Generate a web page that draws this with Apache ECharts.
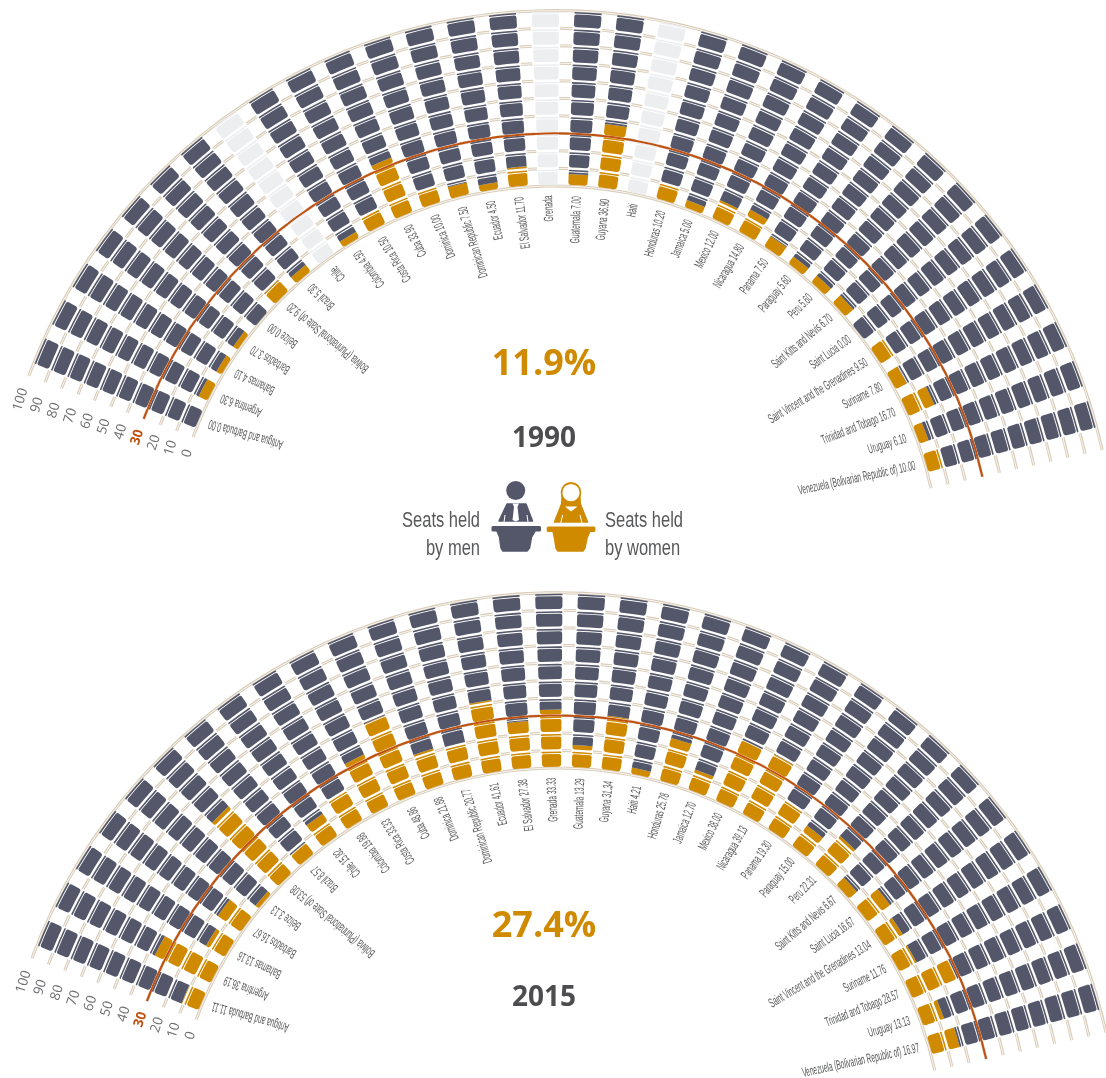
<!DOCTYPE html>
<html>
<head>
<meta charset="utf-8">
<title>Seats held by women in national parliaments</title>
<script src="https://cdn.jsdelivr.net/npm/echarts@6/dist/echarts.min.js"></script>
<style>
  html, body { margin: 0; padding: 0; background: #fff; }
  #chart { width: 1106px; height: 1078px; }
</style>
</head>
<body>
<div id="chart"></div>
<script>
// 资料
const countries = [
  "Antigua and Barbuda", "Argentina", "Bahamas", "Barbados", "Belize",
  "Bolivia (Plurinational State of)", "Brazil", "Chile", "Colombia", "Costa Rica",
  "Cuba", "Dominica", "Dominican Republic", "Ecuador", "El Salvador", "Grenada",
  "Guatemala", "Guyana", "Haiti", "Honduras", "Jamaica", "Mexico", "Nicaragua",
  "Panama", "Paraguay", "Peru", "Saint Kitts and Nevis", "Saint Lucia",
  "Saint Vincent and the Grenadines", "Suriname", "Trinidad and Tobago", "Uruguay",
  "Venezuela (Bolivarian Republic of)"
];
const women1990 = [
  0.0, 6.3, 4.1, 3.7, 0.0, 9.2, 5.3, null, 4.5, 10.5, 33.9, 10.0, 7.5, 4.5, 11.7, null,
  7.0, 36.9, null, 10.2, 5.0, 12.0, 14.8, 7.5, 5.6, 5.6, 6.7, 0.0, 9.5, 7.8, 16.7, 6.1, 10.0
];
const women2015 = [
  11.11, 36.19, 13.16, 16.67, 3.13, 53.08, 8.57, 15.82, 19.88, 33.33, 48.86, 21.88, 20.77,
  41.61, 27.38, 33.33, 13.29, 31.34, 4.21, 25.78, 12.7, 38.0, 39.13, 19.3, 15.0, 22.31,
  6.67, 16.67, 13.04, 11.76, 28.57, 13.13, 16.97
];
const ringValues = [0, 10, 20, 30, 40, 50, 60, 70, 80, 90, 100];
const targetLine = 30;

const MEN = "#535769";
const WOMEN = "#d08a00";
const MISSING = "#eceef0";
const RING = "#d9ccb8";
const TARGET = "#c0500f";
const TEXT = "#58595b";
const NARROW = "'Liberation Sans Narrow', 'Liberation Sans', sans-serif";

// 角度轴：每个国家占 1 个单位
const axisStart = -0.64;
const axisEnd = 32.87;

const pointOf = (api, params, value, pos) => {
  const p = api.coord([value, pos]);
  const { cx, cy } = params.coordSys;
  return { x: p[0], y: p[1], r: Math.hypot(p[0] - cx, p[1] - cy), a: Math.atan2(p[1] - cy, p[0] - cx) };
};

const sector = (api, params, from, to, i, halfWidth, corner, fill) => {
  const a = pointOf(api, params, from, i - halfWidth);
  const b = pointOf(api, params, to, i + halfWidth);
  return {
    type: "sector",
    shape: {
      cx: params.coordSys.cx, cy: params.coordSys.cy,
      r0: a.r, r: b.r, startAngle: a.a, endAngle: b.a,
      clockwise: true, cornerRadius: corner,
    },
    style: { fill: fill },
  };
};

const arc = (api, params, value, stroke, width) => {
  const a = pointOf(api, params, value, axisStart);
  const b = pointOf(api, params, value, axisEnd);
  return {
    type: "arc",
    shape: {
      cx: params.coordSys.cx, cy: params.coordSys.cy, r: a.r,
      startAngle: a.a, endAngle: b.a, clockwise: true,
    },
    style: { stroke: stroke, fill: null, lineWidth: width },
  };
};

// 一个座位 = 座面 + 靠背两段，女性占比在径向上切开
const seatPart = (api, params, i, share, from, to, cornerIn, cornerOut) => {
  const hw = 0.32;
  if (share === null) return [sector(api, params, from, to, i, hw, [cornerIn, cornerOut], MISSING)];
  if (share >= to) return [sector(api, params, from, to, i, hw, [cornerIn, cornerOut], WOMEN)];
  if (share <= from) return [sector(api, params, from, to, i, hw, [cornerIn, cornerOut], MEN)];
  return [
    sector(api, params, from, share, i, hw, [cornerIn, 0], WOMEN),
    sector(api, params, share, to, i, hw, [0, cornerOut], MEN),
  ];
};

const seatSeries = (shares, polarIndex) => ({
  type: "custom",
  coordinateSystem: "polar",
  polarIndex: polarIndex,
  z: 3,
  silent: true,
  clip: false,
  data: shares.map((v, i) => [v === null ? 0 : v, i]),
  renderItem(params, api) {
    const i = params.dataIndex;
    const share = shares[i];
    // 白底把列内的环线盖住
    const children = [sector(api, params, 0.9, 99, i, 0.35, 0, "#fff")];
    for (let k = 0; k < 100; k += 10) {
      children.push(...seatPart(api, params, i, share, k + 0.7, k + 8, 3, 2));
      children.push(...seatPart(api, params, i, share, k + 8.5, k + 9.4, 0, 1));
    }
    return { type: "group", children: children };
  },
});

const ringSeries = (polarIndex) => ({
  type: "custom",
  coordinateSystem: "polar",
  polarIndex: polarIndex,
  z: 2,
  silent: true,
  clip: false,
  data: ringValues.map((v) => [v, 0]),
  renderItem(params, api) {
    const v = api.value(0);
    return {
      type: "group",
      children: [arc(api, params, v, RING, 3), arc(api, params, v, "#fff", 0.8)],
    };
  },
});

const targetSeries = (polarIndex) => ({
  type: "custom",
  coordinateSystem: "polar",
  polarIndex: polarIndex,
  z: 4,
  silent: true,
  clip: false,
  data: [[targetLine, 0]],
  renderItem(params, api) {
    return arc(api, params, api.value(0), TARGET, 2);
  },
});

// 国家标签，沿半径方向向外读
const labelSeries = (shares, polarIndex) => ({
  type: "custom",
  coordinateSystem: "polar",
  polarIndex: polarIndex,
  z: 5,
  silent: true,
  clip: false,
  data: shares.map((v, i) => [v === null ? 0 : v, i]),
  renderItem(params, api) {
    const i = params.dataIndex;
    const share = shares[i];
    const p = pointOf(api, params, -5.5, i);
    const text = share === null ? countries[i] : countries[i] + " " + share.toFixed(2);
    // 标签比列略微展开一点
    const fan = ((7 - 0.35 * i) * Math.PI) / 180;
    return {
      type: "text",
      x: p.x, y: p.y,
      rotation: -p.a + fan,
      scaleX: 0.49,
      style: { text: text, fontFamily: NARROW, fontSize: 13.5, fill: TEXT, align: "right", verticalAlign: "middle" },
    };
  },
});

const tickSeries = (polarIndex) => ({
  type: "custom",
  coordinateSystem: "polar",
  polarIndex: polarIndex,
  z: 5,
  silent: true,
  clip: false,
  data: ringValues.map((v) => [v, 0]),
  renderItem(params, api) {
    const v = api.value(0);
    const p = pointOf(api, params, v, axisStart - 0.58);
    const hot = v === targetLine;
    return {
      type: "text",
      x: p.x, y: p.y,
      rotation: -p.a - Math.PI / 2,
      style: {
        text: String(v),
        fontFamily: "'Open Sans', sans-serif",
        fontSize: 13.5,
        fontWeight: hot ? "bold" : "normal",
        fill: hot ? TARGET : "#6d6e71",
        align: "center",
        verticalAlign: "middle",
      },
    };
  },
});

const angleAxisOf = (polarIndex) => ({
  polarIndex: polarIndex,
  type: "value",
  min: axisStart,
  max: axisEnd,
  startAngle: 159.6,
  endAngle: 12.5,
  axisLine: { show: false },
  axisTick: { show: false },
  axisLabel: { show: false },
  splitLine: { show: false },
});
const radiusAxisOf = (polarIndex) => ({
  polarIndex: polarIndex,
  type: "value",
  min: 0,
  max: 100,
  axisLine: { show: false },
  axisTick: { show: false },
  axisLabel: { show: false },
  splitLine: { show: false },
});

const bigText = (text, y, size, fill) => ({
  type: "text", x: 544, y: y, z: 10,
  style: {
    text: text, fontFamily: "'Open Sans', sans-serif", fontWeight: "bold",
    fontSize: size, fill: fill, align: "center", verticalAlign: "middle",
  },
});
const legendText = (text, x, y, align) => ({
  type: "text", x: x, y: y, z: 10, scaleX: 0.75,
  style: { text: text, fontFamily: NARROW, fontSize: 22, fill: TEXT, align: align, verticalAlign: "middle" },
});
const poly = (points, fill, soft) => ({
  type: "polygon", z: 10,
  shape: { points: points },
  style: soft ? { fill: fill, stroke: fill, lineWidth: 1.5, lineJoin: "round" } : { fill: fill },
});
const slit = (x1, y1, x2, y2) => ({
  type: "line", z: 11,
  shape: { x1: x1, y1: y1, x2: x2, y2: y2 },
  style: { stroke: "#fff", lineWidth: 1 },
});

// 图例图标
const manIcon = [
  { type: "circle", z: 10, shape: { cx: 515.7, cy: 490.5, r: 9.5 }, style: { fill: MEN } },
  poly([[507, 504], [526, 504], [532.5, 521], [499, 521]], MEN, true),
  poly([[512.5, 503.5], [519, 503.5], [517.5, 507], [519, 520], [515.7, 521.5], [512.5, 520], [514, 507]], "#fff"),
  slit(505, 515, 504, 522),
  slit(527, 515, 528, 522),
  { type: "rect", z: 10, shape: { x: 491.5, y: 526, width: 49.5, height: 5.5, r: 1.5 }, style: { fill: MEN } },
  poly([[497, 531], [535, 531], [531.5, 537], [529.5, 548], [527, 551], [503, 551], [501, 548], [499.5, 537]], MEN, true),
];
const womanIcon = [
  { type: "circle", z: 10, shape: { cx: 571, cy: 492.3, r: 10.3 }, style: { fill: WOMEN } },
  poly([[561.5, 492], [580.5, 492], [581, 504], [561, 504]], WOMEN),
  poly([[562, 503], [580, 503], [587.5, 522], [554.5, 522]], WOMEN, true),
  { type: "circle", z: 11, shape: { cx: 571, cy: 492.7, r: 8.6 }, style: { fill: "#fff" } },
  poly([[565, 506.5], [577.5, 506.5], [571, 511.5]], "#fff"),
  slit(562.7, 515, 560.7, 523),
  slit(580, 515, 582, 523),
  { type: "rect", z: 10, shape: { x: 546.7, y: 526.5, width: 48.7, height: 5.5, r: 1.5 }, style: { fill: WOMEN } },
  poly([[553, 531], [590, 531], [587, 538], [585, 548], [583, 551], [558, 551], [556, 548], [554.5, 538]], WOMEN, true),
];

const chart = echarts.init(document.getElementById("chart"), null, { renderer: "canvas" });
chart.setOption({
  animation: false,
  backgroundColor: "#fff",
  polar: [
    { center: [554.5, 571.6], radius: [385.7, 561] },
    { center: [558, 1154], radius: [386, 561.3] },
  ],
  angleAxis: [angleAxisOf(0), angleAxisOf(1)],
  radiusAxis: [radiusAxisOf(0), radiusAxisOf(1)],
  series: [
    ringSeries(0), seatSeries(women1990, 0), targetSeries(0), labelSeries(women1990, 0), tickSeries(0),
    ringSeries(1), seatSeries(women2015, 1), targetSeries(1), labelSeries(women2015, 1), tickSeries(1),
  ],
  graphic: [
    bigText("11.9%", 365, 36, WOMEN),
    bigText("1990", 439, 28, "#4d4d4f"),
    bigText("27.4%", 927, 36, WOMEN),
    bigText("2015", 998, 28, "#4d4d4f"),
    legendText("Seats held", 480, 521, "right"),
    legendText("by men", 480, 549, "right"),
    legendText("Seats held", 605, 521, "left"),
    legendText("by women", 605, 549, "left"),
    ...manIcon,
    ...womanIcon,
  ],
});
</script>
</body>
</html>
